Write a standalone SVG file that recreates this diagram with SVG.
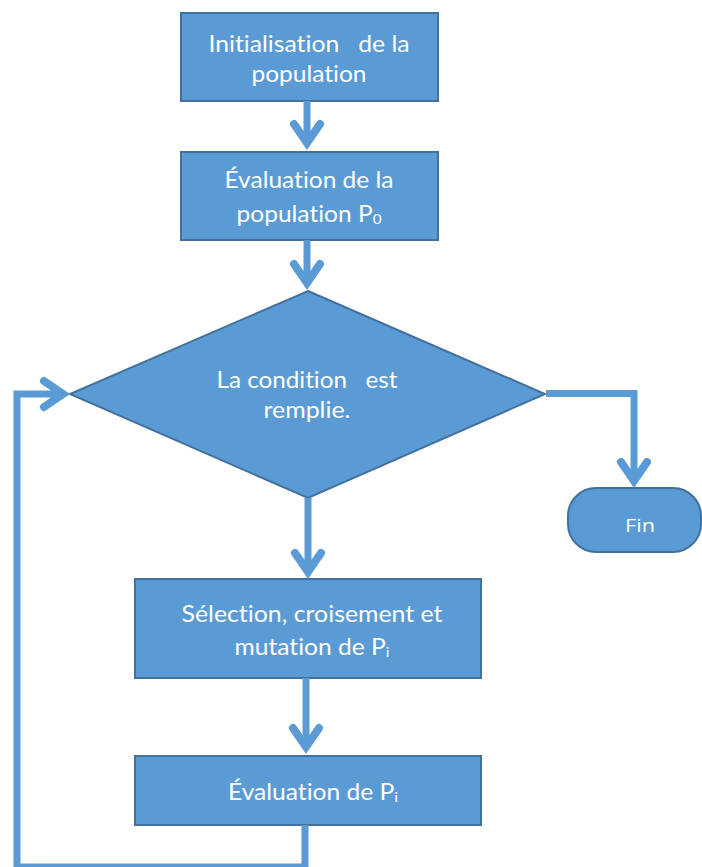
<svg xmlns="http://www.w3.org/2000/svg" width="702" height="867" viewBox="0 0 702 867">
<style>
.box{fill:#5B9BD5;stroke:#41719C;stroke-width:2}
.t{fill:#FFFFFF;font-family:Lato,"Open Sans","Liberation Sans",sans-serif;font-size:22.5px;text-anchor:middle;white-space:pre;font-variant-ligatures:none;font-feature-settings:"liga" 0}
.fin{fill:#FFFFFF;font-family:"Open Sans","Noto Sans",sans-serif;font-size:19px;text-anchor:middle}
.sub{font-size:14px}
.c{fill:none;stroke:#5B9BD5;stroke-width:7;stroke-linejoin:miter;marker-end:url(#ah)}
</style>
<defs>
<marker id="ah" markerUnits="userSpaceOnUse" orient="auto" markerWidth="40" markerHeight="40" refX="0" refY="0" viewBox="-30 -20 40 40" overflow="visible">
<path d="M -19 -13 L 0 0 L -19 13" fill="none" stroke="#5B9BD5" stroke-width="8" stroke-linecap="round" stroke-linejoin="miter" stroke-miterlimit="10"/>
</marker>
</defs>
<rect width="702" height="867" fill="#FFFFFF"/>
<g id="init">
<rect class="box" x="181" y="13" width="257" height="88"/>
<text class="t" x="309" y="52" textLength="201" lengthAdjust="spacingAndGlyphs">Initialisation   de la</text>
<text class="t" x="309" y="82" textLength="115" lengthAdjust="spacingAndGlyphs">population</text>
</g>
<g id="eval0">
<rect class="box" x="181" y="152" width="257" height="88"/>
<text class="t" x="309" y="188" textLength="169" lengthAdjust="spacingAndGlyphs">Évaluation de la</text>
<text class="t" x="309" y="222" textLength="145" lengthAdjust="spacingAndGlyphs">population P<tspan class="sub" dy="2">0</tspan></text>
</g>
<g id="condition">
<polygon class="box" points="308,291 545,394 308,498 70,394"/>
<text class="t" x="307" y="388" textLength="181" lengthAdjust="spacingAndGlyphs">La condition   est</text>
<text class="t" x="307" y="418" textLength="87" lengthAdjust="spacingAndGlyphs">remplie.</text>
</g>
<g id="fin">
<rect class="box" x="568" y="488" width="133" height="64" rx="28" ry="28"/>
<text class="fin" x="640" y="532" textLength="30" lengthAdjust="spacingAndGlyphs">Fin</text>
</g>
<g id="selection">
<rect class="box" x="135" y="579" width="346" height="99"/>
<text class="t" x="312" y="622" textLength="261" lengthAdjust="spacingAndGlyphs">Sélection, croisement et</text>
<text class="t" x="312" y="655" textLength="155" lengthAdjust="spacingAndGlyphs">mutation de P<tspan class="sub" dy="2">i</tspan></text>
</g>
<g id="evali">
<rect class="box" x="135" y="756" width="346" height="69"/>
<text class="t" x="313" y="800" textLength="170" lengthAdjust="spacingAndGlyphs">Évaluation de P<tspan class="sub" dy="2">i</tspan></text>
</g>
<g id="connectors">
<path class="c" d="M 307 101 L 307 143"/>
<path class="c" d="M 307 240 L 307 283"/>
<path class="c" d="M 308 498 L 308 572"/>
<path class="c" d="M 306 678 L 306 747"/>
<path class="c" d="M 546 393.5 L 634 393.5 L 634 481"/>
<path class="c" d="M 305 825 L 305 867 L 17 867 L 17 394 L 63 394"/>
</g>
</svg>
